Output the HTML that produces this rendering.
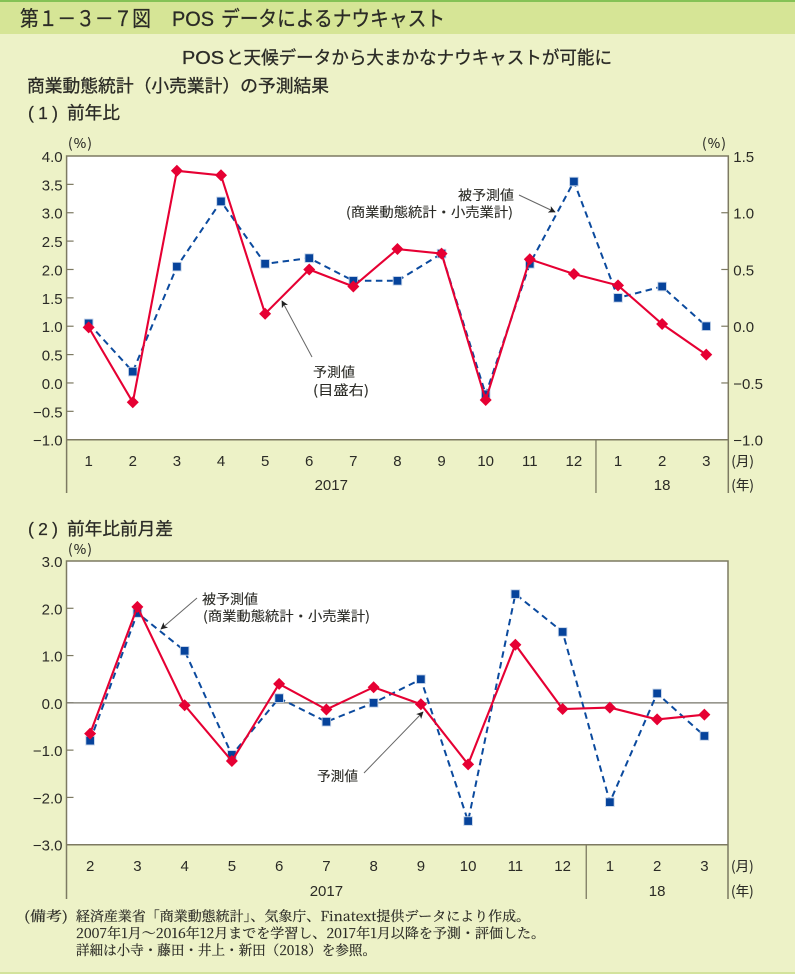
<!DOCTYPE html>
<html lang="ja">
<head>
<meta charset="utf-8">
<title>第1-3-7図 POSデータによるナウキャスト</title>
<style>
html,body{margin:0;padding:0;background:#edf2c7;}
svg{display:block;}
text{font-family:"Liberation Sans","Noto Sans CJK JP",sans-serif;fill:#2b2b26;}
.cjk{font-family:"Noto Sans CJK JP","Liberation Sans",sans-serif;stroke:#2b2b26;stroke-width:0.3;}
.serif{font-family:"Noto Serif CJK SC","Liberation Serif",serif;font-size:13.5px;stroke:#2b2b26;stroke-width:0.2;}
.tick{font-size:15px;}
.ann{font-family:"Noto Sans CJK JP","Liberation Sans",sans-serif;font-size:13.5px;stroke:#2b2b26;stroke-width:0.12;}
</style>
</head>
<body>
<svg id="page" xmlns="http://www.w3.org/2000/svg" width="795" height="974" viewBox="0 0 795 974">
  <defs>
    <marker id="arrow-head" viewBox="0 0 10 10" refX="9" refY="5" markerWidth="8" markerHeight="7" orient="auto" markerUnits="userSpaceOnUse">
      <path d="M0 0L10 5L0 10L2.5 5Z" fill="#222"/>
    </marker>
  </defs>
  <rect x="0" y="0" width="795" height="974" fill="#edf2c7"/>
  <rect x="0" y="2" width="795" height="32" fill="#d6e596"/>
  <rect x="0" y="0" width="795" height="2" fill="#85c256"/>
  <rect x="0" y="972" width="795" height="2" fill="#d3e39c"/>
  <g>
    <text class="cjk" x="20" y="26" font-size="21" textLength="131" lengthAdjust="spacingAndGlyphs">第１－３－７図</text>
    <text x="172" y="26" font-size="21" stroke="#2b2b26" stroke-width="0.3" textLength="42" lengthAdjust="spacingAndGlyphs">POS</text>
    <text class="cjk" x="221" y="26" font-size="21" textLength="224" lengthAdjust="spacingAndGlyphs">データによるナウキャスト</text>
  </g>
  <g>
    <text x="182" y="64" font-size="18" stroke="#2b2b26" stroke-width="0.3" textLength="42" lengthAdjust="spacingAndGlyphs">POS</text>
    <text class="cjk" x="226" y="64" font-size="18" textLength="386" lengthAdjust="spacingAndGlyphs">と天候データから大まかなナウキャストが可能に</text>
  </g>
  <text class="cjk" x="27" y="92" font-size="17.5" textLength="302" lengthAdjust="spacingAndGlyphs">商業動態統計（小売業計）の予測結果</text>
  <g>
    <text x="28" y="119" font-size="17.5" stroke="#2b2b26" stroke-width="0.2" textLength="30" lengthAdjust="spacing">(1)</text>
    <text class="cjk" x="67" y="119" font-size="17.5" textLength="53" lengthAdjust="spacingAndGlyphs">前年比</text>
  </g>
  <g>
    <text x="28" y="535" font-size="17.5" stroke="#2b2b26" stroke-width="0.2" textLength="30" lengthAdjust="spacing">(2)</text>
    <text class="cjk" x="67" y="535" font-size="17.5" textLength="106" lengthAdjust="spacingAndGlyphs">前年比前月差</text>
  </g>

  <g id="panel1"></g>
  <g id="panel2"></g>

  <text class="ann" x="68" y="148" font-size="13.5" textLength="24" lengthAdjust="spacing">(%)</text>
  <text class="ann" x="702" y="148" font-size="13.5" textLength="24" lengthAdjust="spacing">(%)</text>
  <text class="ann" x="68" y="554" font-size="13.5" textLength="24" lengthAdjust="spacing">(%)</text>

  <text class="ann" x="458" y="200" textLength="56" lengthAdjust="spacingAndGlyphs">被予測値</text>
  <text class="ann" x="346" y="217" textLength="167" lengthAdjust="spacingAndGlyphs">(商業動態統計・小売業計)</text>
  <line x1="519" y1="195" x2="555" y2="212" stroke="#666" stroke-width="1" marker-end="url(#arrow-head)"/>
  <text class="ann" x="313" y="377" textLength="42" lengthAdjust="spacingAndGlyphs">予測値</text>
  <text class="ann" x="313" y="395" textLength="56" lengthAdjust="spacingAndGlyphs">(目盛右)</text>
  <line x1="312" y1="357" x2="282" y2="301" stroke="#666" stroke-width="1" marker-end="url(#arrow-head)"/>

  <text class="ann" x="202" y="604" textLength="56" lengthAdjust="spacingAndGlyphs">被予測値</text>
  <text class="ann" x="203" y="621" textLength="167" lengthAdjust="spacingAndGlyphs">(商業動態統計・小売業計)</text>
  <line x1="197" y1="598" x2="161" y2="629" stroke="#666" stroke-width="1" marker-end="url(#arrow-head)"/>
  <text class="ann" x="317" y="781" textLength="41" lengthAdjust="spacingAndGlyphs">予測値</text>
  <line x1="364" y1="773" x2="423" y2="712" stroke="#666" stroke-width="1" marker-end="url(#arrow-head)"/>

  <text class="serif" x="24" y="921" textLength="44" lengthAdjust="spacingAndGlyphs">(備考)</text>
  <text class="serif" x="76" y="921" textLength="454" lengthAdjust="spacingAndGlyphs">経済産業省「商業動態統計」、気象庁、Finatext提供データにより作成。</text>
  <text class="serif" x="76" y="938" textLength="469" lengthAdjust="spacingAndGlyphs">2007年1月～2016年12月までを学習し、2017年1月以降を予測・評価した。</text>
  <text class="serif" x="76" y="955" textLength="300" lengthAdjust="spacingAndGlyphs">詳細は小寺・藤田・井上・新田（2018）を参照。</text>
</svg>
<script>
// Panel 1 data
const p1Months = ['1','2','3','4','5','6','7','8','9','10','11','12','1','2','3'];
const p1Years = ['2017','18'];
const p1YearCounts = [12,3];
const p1Target = [1.05,0.2,2.05,3.2,2.1,2.2,1.8,1.8,2.28,-0.2,2.1,3.55,1.5,1.7,1.0];
const p1Forecast = [-0.01,-0.67,1.37,1.33,0.11,0.5,0.35,0.68,0.64,-0.65,0.59,0.46,0.36,0.02,-0.25];
const p1LeftTicks = [4.0,3.5,3.0,2.5,2.0,1.5,1.0,0.5,0.0,-0.5,-1.0];
const p1RightTicks = [1.5,1.0,0.5,0.0,-0.5,-1.0];
// Panel 2 data
const p2Months = ['2','3','4','5','6','7','8','9','10','11','12','1','2','3'];
const p2Years = ['2017','18'];
const p2YearCounts = [11,3];
const p2Target = [-0.8,1.9,1.1,-1.1,0.1,-0.4,0.0,0.5,-2.5,2.3,1.5,-2.1,0.2,-0.7];
const p2Forecast = [-0.65,2.03,-0.05,-1.23,0.4,-0.14,0.33,-0.03,-1.3,1.23,-0.13,-0.1,-0.35,-0.25];
const p2LeftTicks = [3.0,2.0,1.0,0.0,-1.0,-2.0,-3.0];

const NS = 'http://www.w3.org/2000/svg';
const AXIS = '#7d7a62';
function make(parent, tag, attrs, txt) {
  const el = document.createElementNS(NS, tag);
  for (const k in attrs) el.setAttribute(k, attrs[k]);
  if (txt !== undefined) el.textContent = txt;
  parent.appendChild(el);
  return el;
}
function fmt(v) {
  return (v < 0 ? '\u2212' : '') + Math.abs(v).toFixed(1);
}
function linear(d0, d1, r0, r1) {
  return v => r0 + (v - d0) * (r1 - r0) / (d1 - d0);
}
function drawPanel(root, cfg) {
  const L = cfg.left, R = cfg.right, T = cfg.top, B = cfg.bottom, E = cfg.axisEnd;
  const band = (R - L) / cfg.months.length;
  const x = i => L + band * (i + 0.5);

  const plot = make(root, 'rect', {x: L, y: T, width: R - L, height: B - T, fill: '#fff'});
  
  

  cfg.leftTicks.forEach(t => {
    const y = cfg.yLeft(t);
    if (t !== cfg.leftTicks[0] && t !== cfg.leftTicks[cfg.leftTicks.length - 1]) {
      const tick = make(root, 'line', {x1: L, x2: L + 7, y1: y, y2: y, stroke: AXIS, 'stroke-width': 1.2});
      
      
    }
    const label = make(root, 'text', {x: L - 4, y: y + 6, 'text-anchor': 'end', class: 'tick'}, fmt(t));
    
    
  });
  if (cfg.rightTicks) {
    cfg.rightTicks.forEach(t => {
      const y = cfg.yRight(t);
      if (t !== cfg.rightTicks[0] && t !== cfg.rightTicks[cfg.rightTicks.length - 1]) {
        const tick = make(root, 'line', {x1: R - 7, x2: R, y1: y, y2: y, stroke: AXIS, 'stroke-width': 1.2});
        
        
      }
      const label = make(root, 'text', {x: R + 5, y: y + 6, class: 'tick'}, fmt(t));
      
      
    });
  }
  if (cfg.zeroLine) {
    const zero = make(root, 'line', {x1: L, x2: R, y1: cfg.yLeft(0), y2: cfg.yLeft(0), stroke: '#77756a', 'stroke-width': 1.3});
    
    
  }

  const frame = make(root, 'path', {
    d: `M${L} ${E}V${T}H${R}V${E}M${L} ${B}H${R}`,
    fill: 'none', stroke: AXIS, 'stroke-width': 1.5
  });
  
  

  let acc = 0;
  cfg.yearCounts.forEach((n, yi) => {
    const cx = x(acc + (n - 1) / 2);
    const yr = make(root, 'text', {x: cx, y: cfg.yearY, 'text-anchor': 'middle', class: 'tick'}, cfg.years[yi]);
    
    
    acc += n;
    if (yi < cfg.yearCounts.length - 1) {
      const sx = L + band * acc;
      const sep = make(root, 'line', {x1: sx, x2: sx, y1: B, y2: E, stroke: AXIS, 'stroke-width': 1.3});
      
      
    }
  });
  cfg.months.forEach((m, i) => {
    const lab = make(root, 'text', {x: x(i), y: cfg.monthY, 'text-anchor': 'middle', class: 'tick'}, m);
    
    
  });
  const mu = make(root, 'text', {x: R + 3, y: cfg.monthY, class: 'ann', 'font-size': 13.5}, '(月)');
  
  
  const yu = make(root, 'text', {x: R + 3, y: cfg.yearY, class: 'ann', 'font-size': 13.5}, '(年)');
  
  

  const targetPts = cfg.target.map((v, i) => x(i).toFixed(1) + ',' + cfg.yLeft(v).toFixed(1)).join(' ');
  const tLine = make(root, 'polyline', {points: targetPts, fill: 'none', stroke: '#0b4a9e', 'stroke-width': 2, 'stroke-dasharray': '6.5 4.5'});
  
  
  cfg.target.forEach((v, i) => {
    const px = x(i), py = cfg.yLeft(v);
    const sq = make(root, 'rect', {x: px - 4.3, y: py - 4.3, width: 8.6, height: 8.6, fill: '#06439b', stroke: '#c4d3e8', 'stroke-width': 0.9});
    
    
  });

  const forecastPts = cfg.forecast.map((v, i) => x(i).toFixed(1) + ',' + cfg.yFore(v).toFixed(1)).join(' ');
  const fLine = make(root, 'polyline', {points: forecastPts, fill: 'none', stroke: '#e60033', 'stroke-width': 2.1});
  
  
  cfg.forecast.forEach((v, i) => {
    const px = x(i), py = cfg.yFore(v);
    const dm = make(root, 'path', {d: `M${px} ${py - 6}L${px + 6} ${py}L${px} ${py + 6}L${px - 6} ${py}Z`, fill: '#e60033'});
    
    
  });
}

const y1Left = linear(-1, 4, 439.7, 156);
const y1Right = linear(-1, 1.5, 439.7, 156);
drawPanel(document.getElementById('panel1'), {
  left: 66.6, right: 728.3, top: 156, bottom: 439.7, axisEnd: 493,
  months: p1Months, years: p1Years, yearCounts: p1YearCounts,
  target: p1Target, forecast: p1Forecast,
  leftTicks: p1LeftTicks, rightTicks: p1RightTicks,
  yLeft: y1Left, yRight: y1Right, yFore: y1Right,
  monthY: 466, yearY: 490, zeroLine: false
});
const y2Left = linear(-3, 3, 844.7, 561);
drawPanel(document.getElementById('panel2'), {
  left: 66.5, right: 728, top: 561, bottom: 844.7, axisEnd: 899,
  months: p2Months, years: p2Years, yearCounts: p2YearCounts,
  target: p2Target, forecast: p2Forecast,
  leftTicks: p2LeftTicks, rightTicks: null,
  yLeft: y2Left, yFore: y2Left,
  monthY: 871, yearY: 896, zeroLine: true
});
</script>
</body>
</html>
